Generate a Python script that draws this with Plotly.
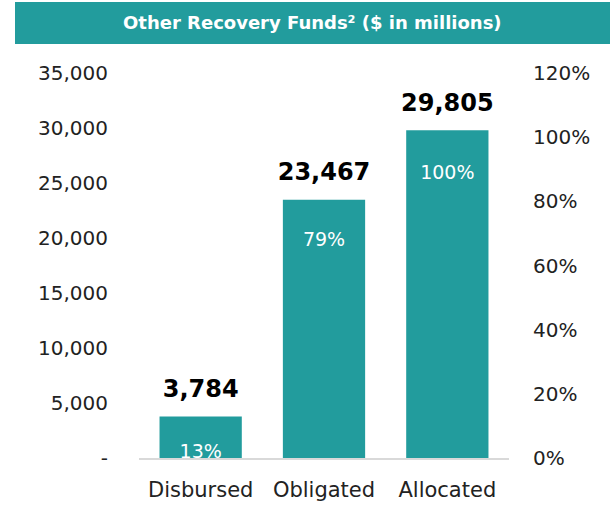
import plotly.graph_objects as go

categories = ["Disbursed", "Obligated", "Allocated"]
values = [3784, 23467, 29805]
value_labels = ["3,784", "23,467", "29,805"]
pct_values = [0.13, 0.79, 1.00]
pct_labels = ["13%", "79%", "100%"]
left_ticks = [0, 5000, 10000, 15000, 20000, 25000, 30000, 35000]
left_ticktext = ["-", "5,000", "10,000", "15,000", "20,000", "25,000", "30,000", "35,000"]
right_ticks = [0, 0.2, 0.4, 0.6, 0.8, 1.0, 1.2]
right_ticktext = ["0%", "20%", "40%", "60%", "80%", "100%", "120%"]
title_text = "Other Recovery Funds² ($ in millions)"

TEAL = "#229C9D"
FONT = "DejaVu Sans"

fig = go.Figure()
fig.add_trace(go.Bar(
    x=categories, y=values, marker=dict(color=TEAL, line=dict(width=0)),
    hoverinfo="skip", yaxis="y",
))
# value labels above bars
fig.add_trace(go.Scatter(
    x=categories, y=values, mode="markers+text", text=value_labels,
    textposition="top center",
    textfont=dict(family=FONT, size=24, color="black", weight="bold"),
    marker=dict(size=20, opacity=0), cliponaxis=False, hoverinfo="skip", yaxis="y",
))
# percent labels (secondary axis)
fig.add_trace(go.Scatter(
    x=categories, y=pct_values, mode="markers+text", text=pct_labels,
    textposition="bottom center",
    textfont=dict(family=FONT, size=19, color="white"),
    marker=dict(size=42, opacity=0), cliponaxis=True, hoverinfo="skip", yaxis="y2",
))

fig.update_layout(
    width=615, height=508,
    margin=dict(l=139, r=106, t=73, b=50),
    paper_bgcolor="white", plot_bgcolor="white",
    showlegend=False, bargap=0.333,
    font=dict(family=FONT, color="#222222"),
    xaxis=dict(
        type="category", range=[-0.5, 2.5], showgrid=False, zeroline=False,
        showline=True, linecolor="#D9D9D9", linewidth=2, ticks="",
        tickangle=0, tickfont=dict(family=FONT, size=21, color="#222222"),
        ticklabelstandoff=12, automargin=False,
    ),
    yaxis=dict(
        range=[0, 35000], tickvals=left_ticks, ticktext=left_ticktext,
        showgrid=False, zeroline=False, showline=False, ticks="",
        tickfont=dict(family=FONT, size=20, color="#222222"),
        ticklabelstandoff=30, automargin=False,
    ),
    yaxis2=dict(
        range=[0, 1.2], tickvals=right_ticks, ticktext=right_ticktext,
        overlaying="y", side="right", showgrid=False, zeroline=False,
        showline=False, ticks="",
        tickfont=dict(family=FONT, size=20, color="#222222"),
        ticklabelstandoff=23, automargin=False,
    ),
    shapes=[dict(
        type="rect", xref="paper", yref="paper",
        x0=(15 - 139) / 370, x1=(610 - 139) / 370,
        y0=(458 - 44) / 385, y1=(458 - 2) / 385,
        fillcolor=TEAL, line=dict(width=0), layer="above",
    )],
    annotations=[dict(
        xref="paper", yref="paper",
        x=((15 + 610) / 2 - 139) / 370, y=(458 - 23) / 385,
        text="<b>" + title_text + "</b>", showarrow=False,
        font=dict(family=FONT, size=18, color="white"),
        xanchor="center", yanchor="middle",
    )],
)

fig.write_html("out.html", config={"displayModeBar": False},
               post_script="document.body.style.margin='0';")
